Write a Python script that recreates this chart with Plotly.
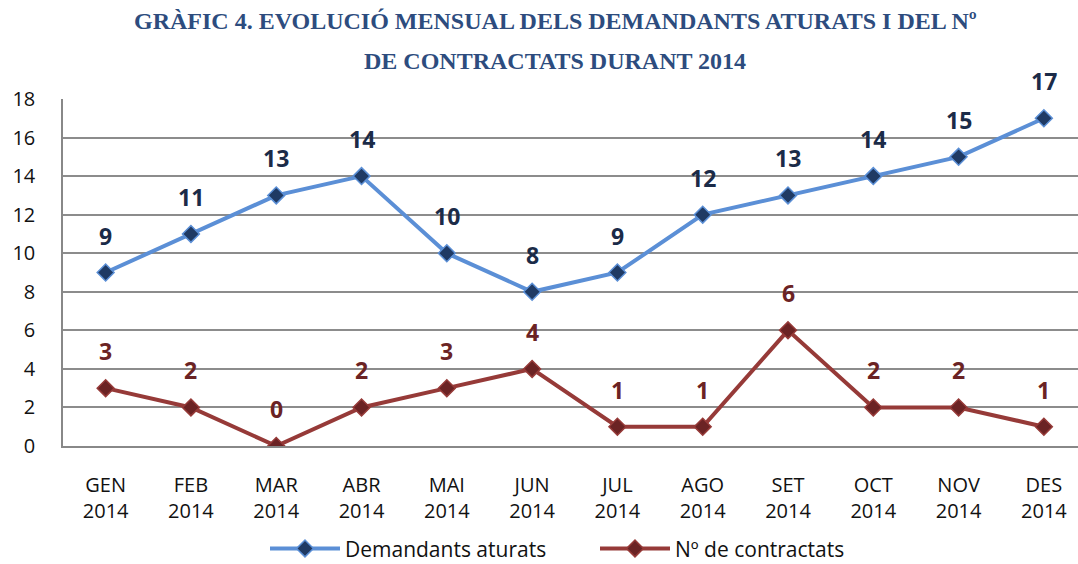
import plotly.graph_objects as go

months = ["GEN<br>2014", "FEB<br>2014", "MAR<br>2014", "ABR<br>2014", "MAI<br>2014", "JUN<br>2014",
          "JUL<br>2014", "AGO<br>2014", "SET<br>2014", "OCT<br>2014", "NOV<br>2014", "DES<br>2014"]
demandants = [9, 11, 13, 14, 10, 8, 9, 12, 13, 14, 15, 17]
contractats = [3, 2, 0, 2, 3, 4, 1, 1, 6, 2, 2, 1]
y_ticks = [0, 2, 4, 6, 8, 10, 12, 14, 16, 18]
title_lines = ["GRÀFIC 4. EVOLUCIÓ MENSUAL DELS DEMANDANTS ATURATS I DEL Nº",
               "DE CONTRACTATS DURANT 2014"]

blue_line = "#5B8FD6"
blue_mark = "#1F3A64"
red_line = "#963A38"
red_mark = "#6B2324"
blue_text = "#1B2B48"
red_text = "#6B2324"

fig = go.Figure()
fig.add_trace(go.Scatter(
    x=months, y=demandants, mode="lines+markers", name="Demandants aturats",
    line=dict(color=blue_line, width=4),
    marker=dict(symbol="diamond", size=13, color=blue_mark, line=dict(color=blue_line, width=1.5)),
))
fig.add_trace(go.Scatter(
    x=months, y=contractats, mode="lines+markers", name="Nº de contractats",
    line=dict(color=red_line, width=4),
    marker=dict(symbol="diamond", size=13, color=red_mark, line=dict(color=red_line, width=1.5)),
))

annotations = []
for m, v in zip(months, demandants):
    annotations.append(dict(x=m, y=v, text="<b>%d</b>" % v, showarrow=False, yshift=37,
                            font=dict(family="Open Sans", size=23, color=blue_text)))
for m, v in zip(months, contractats):
    annotations.append(dict(x=m, y=v, text="<b>%d</b>" % v, showarrow=False, yshift=37,
                            font=dict(family="Open Sans", size=23, color=red_text)))
for i, (line, ypx) in enumerate(zip(title_lines, [21, 61])):
    annotations.append(dict(xref="paper", yref="paper", x=(555 - 63) / 1015,
                            y=1 + (99 - ypx) / 347, xanchor="center", yanchor="middle",
                            text="<b>%s</b>" % line, showarrow=False,
                            font=dict(family="Liberation Serif", size=24, color="#2D4C7E")))

fig.update_layout(
    width=1078, height=564,
    margin=dict(l=63, r=0, t=99, b=118),
    paper_bgcolor="white", plot_bgcolor="white",
    showlegend=True,
    legend=dict(orientation="h", x=(265 - 63) / 1015, xref="paper", xanchor="left",
                yref="container", y=0.027, yanchor="middle",
                font=dict(family="Open Sans", size=21, color="#111111"),
                itemwidth=70, entrywidth=245, entrywidthmode="pixels", traceorder="normal"),
    annotations=annotations,
    font=dict(family="Open Sans", size=20, color="#111111"),
)
fig.update_xaxes(range=[-0.5, 11.4], showline=True, linecolor="#888888", linewidth=1.5,
                 showgrid=False, ticks="", ticklabelstandoff=20, automargin=False,
                 tickfont=dict(size=20, color="#111111"))
fig.update_yaxes(range=[0, 18], tickvals=y_ticks, showline=True, linecolor="#888888", linewidth=1.5,
                 showgrid=True, gridcolor="#8C8C8C", gridwidth=1.5, zeroline=False, automargin=False,
                 ticks="", ticklabelstandoff=22, tickfont=dict(size=20, color="#111111"))

fig.write_html("out.html")
